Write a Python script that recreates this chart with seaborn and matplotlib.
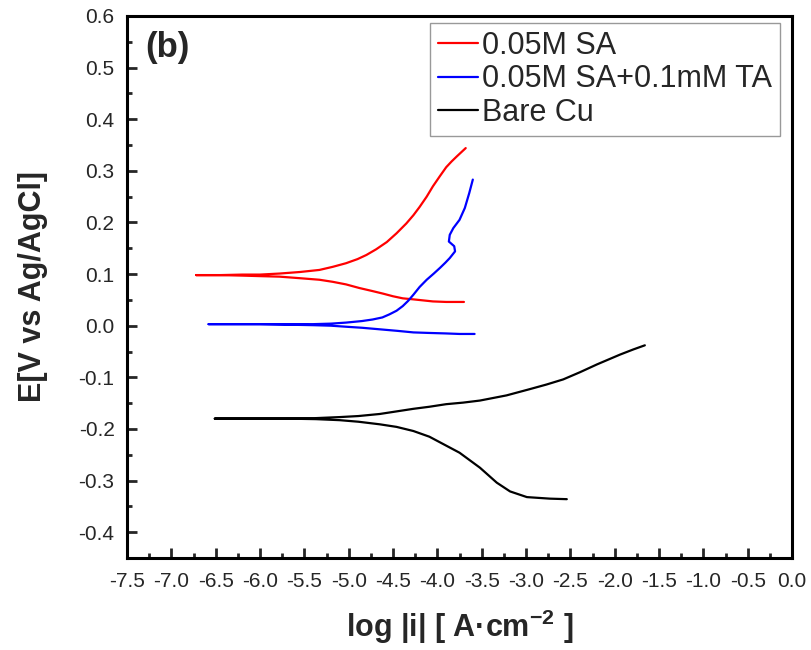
import matplotlib
matplotlib.use("Agg")
import matplotlib.pyplot as plt
import seaborn as sns
import pandas as pd
import numpy as np

# Tafel polarization scans: each list runs from the cathodic end, through the
# corrosion-potential tip, out along the anodic branch.
series_names = ["0.05M SA", "0.05M SA+0.1mM TA", "Bare Cu"]

sa_logi = [-3.70, -3.90, -4.05, -4.16, -4.27, -4.39, -4.50, -4.61, -4.73, -4.88,
           -5.03, -5.18, -5.33, -5.55, -5.78, -6.00, -6.20, -6.45, -6.72,
           -6.45, -6.20, -6.00, -5.78, -5.55, -5.33, -5.18, -5.03, -4.90, -4.80,
           -4.69, -4.57, -4.46, -4.35, -4.27, -4.20, -4.12, -4.05, -3.97, -3.90,
           -3.84, -3.78, -3.68]
sa_E = [0.046, 0.046, 0.047, 0.049, 0.051, 0.053, 0.057, 0.062, 0.067, 0.073,
        0.080, 0.085, 0.089, 0.092, 0.095, 0.096, 0.097, 0.098, 0.098,
        0.098, 0.099, 0.099, 0.101, 0.104, 0.108, 0.114, 0.121, 0.129, 0.137,
        0.148, 0.162, 0.179, 0.198, 0.214, 0.230, 0.250, 0.270, 0.290, 0.307,
        0.318, 0.328, 0.344]

ta_logi = [-3.58, -3.75, -3.90, -4.10, -4.27, -4.45, -4.65, -4.85, -5.03, -5.20,
           -5.40, -5.70, -6.00, -6.30, -6.58,
           -6.30, -6.00, -5.70, -5.40, -5.20, -5.03, -4.85, -4.73, -4.62, -4.54,
           -4.46, -4.39, -4.33, -4.27, -4.20, -4.12, -4.04, -3.97, -3.91, -3.86,
           -3.80, -3.81, -3.87, -3.86, -3.82, -3.75, -3.69, -3.64, -3.60]
ta_E = [-0.016, -0.016, -0.015, -0.014, -0.013, -0.010, -0.007, -0.004, -0.002, 0.000,
        0.001, 0.002, 0.003, 0.003, 0.003,
        0.003, 0.003, 0.003, 0.003, 0.004, 0.006, 0.009, 0.012, 0.016, 0.022,
        0.029, 0.038, 0.048, 0.060, 0.075, 0.089, 0.101, 0.112, 0.122, 0.131,
        0.144, 0.154, 0.163, 0.176, 0.189, 0.205, 0.228, 0.257, 0.283]

cu_logi = [-2.54, -2.73, -2.99, -3.18, -3.33, -3.52, -3.75, -4.09, -4.27, -4.46,
           -4.65, -4.89, -5.10, -5.37, -5.70, -6.00, -6.30, -6.51,
           -6.30, -6.00, -5.70, -5.37, -5.10, -4.89, -4.65, -4.46, -4.27, -4.09,
           -3.90, -3.71, -3.52, -3.22, -2.96, -2.77, -2.58, -2.39, -2.20, -1.94,
           -1.79, -1.66]
cu_E = [-0.336, -0.335, -0.332, -0.321, -0.304, -0.275, -0.246, -0.215, -0.204, -0.196,
        -0.191, -0.186, -0.183, -0.181, -0.180, -0.180, -0.180, -0.180,
        -0.180, -0.180, -0.180, -0.179, -0.177, -0.175, -0.171, -0.166, -0.161, -0.157,
        -0.152, -0.149, -0.145, -0.135, -0.123, -0.114, -0.104, -0.090, -0.075, -0.056,
        -0.046, -0.038]

x_ticks = [-7.5, -7.0, -6.5, -6.0, -5.5, -5.0, -4.5, -4.0, -3.5, -3.0, -2.5,
           -2.0, -1.5, -1.0, -0.5, 0.0]
y_ticks = [-0.4, -0.3, -0.2, -0.1, 0.0, 0.1, 0.2, 0.3, 0.4, 0.5, 0.6]

line_colors = {"0.05M SA": "#ff0000", "0.05M SA+0.1mM TA": "#0000ff", "Bare Cu": "#000000"}

frames = []
for name, lx, ey in zip(series_names, [sa_logi, ta_logi, cu_logi], [sa_E, ta_E, cu_E]):
    frames.append(pd.DataFrame({"logi": lx, "E": ey, "sample": name}))
df = pd.concat(frames, ignore_index=True)

sns.set_style("ticks")
plt.rcParams["font.family"] = ["Liberation Sans", "DejaVu Sans"]
plt.rcParams["axes.unicode_minus"] = False
plt.rcParams["mathtext.fontset"] = "custom"
plt.rcParams["mathtext.bf"] = "Liberation Sans:bold"
plt.rcParams["mathtext.rm"] = "Liberation Sans"

fig = plt.figure(figsize=(8.11, 6.5), dpi=100)
ax = fig.add_axes([0.1566, 0.1415, 0.820, 0.834])

sns.lineplot(data=df, x="logi", y="E", hue="sample", hue_order=series_names,
             palette=line_colors, sort=False, estimator=None, units="sample",
             linewidth=1.6, ax=ax, legend=True)

ax.set_xlim(-7.5, 0.0)
ax.set_ylim(-0.45, 0.6)
ax.set_xticks(x_ticks)
ax.set_xticklabels([f"{v:.1f}" for v in x_ticks])
ax.set_yticks(y_ticks)
ax.set_yticklabels([f"{v:.1f}" for v in y_ticks])
ax.set_xticks(np.arange(-7.25, 0.0, 0.5), minor=True)
ax.set_yticks(np.arange(-0.45, 0.6, 0.1), minor=True)

ax.tick_params(axis="both", which="major", direction="in", length=7, width=2,
               labelsize=15, top=False, right=False)
ax.tick_params(axis="both", which="minor", direction="in", length=3.5, width=2,
               top=False, right=False)
ax.tick_params(axis="x", which="major", pad=10)
ax.tick_params(axis="y", which="major", pad=9)

for side in ["left", "right", "top", "bottom"]:
    ax.spines[side].set_visible(True)
    ax.spines[side].set_linewidth(2.2)
    ax.spines[side].set_color("black")

ax.set_xlabel(r"log |i| [ A·cm$^{\mathbf{-2}}$ ]", fontsize=22, fontweight="bold", labelpad=12)
ax.set_ylabel("E[V vs Ag/AgCl]", fontsize=22, fontweight="bold", labelpad=22)

ax.text(0.027, 0.941, "(b)", transform=ax.transAxes, fontsize=25, fontweight="bold",
        va="center", ha="left")

handles, labels = ax.get_legend_handles_labels()
leg = ax.legend(handles, labels, loc="upper right", bbox_to_anchor=(0.982, 0.987),
                borderaxespad=0, fontsize=22, frameon=True, fancybox=False,
                handlelength=1.3, handletextpad=0.15, labelspacing=0.12,
                borderpad=0.25, edgecolor="#808080")
leg.get_frame().set_linewidth(1.0)
for h in leg.get_lines():
    h.set_linewidth(1.6)

fig.savefig("out.png", dpi=100)
